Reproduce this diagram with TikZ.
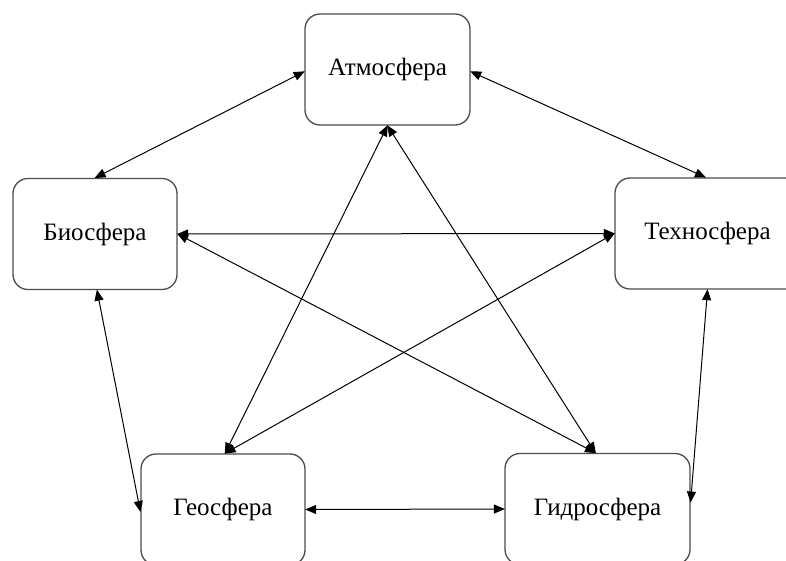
\documentclass[tikz,border=0pt]{standalone}
\usepackage{fontspec}
\setmainfont{Liberation Serif}
\usetikzlibrary{arrows.meta}
\begin{document}
\begin{tikzpicture}[x=1pt,y=-1pt,
  sphere/.style={draw=black!70, line width=1.3pt, rounded corners=15pt,
    fill=white, inner sep=0pt, minimum height=111pt,
    font=\fontsize{25}{28}\selectfont},
  link/.style={draw=black, line width=1pt,
    {Triangle[length=11pt,width=9pt]}-{Triangle[length=11pt,width=9pt]},
    shorten <=-0.5pt, shorten >=-0.5pt}]
\useasboundingbox (0,0) rectangle (786,560);
\fill[white] (0,0) rectangle (786,560);

\node[sphere, minimum width=165pt] (atm)   at (387.5, 69.5) {Атмосфера};
\node[sphere, minimum width=164pt] (bio)   at (95, 234)     {Биосфера};
\node[sphere, minimum width=185pt] (tech)  at (707.5, 233.5) {Техносфера};
\node[sphere, minimum width=164pt] (geo)   at (223, 509.5)  {Геосфера};
\node[sphere, minimum width=185pt] (hydro) at (597.5, 509)  {Гидросфера};

% outer ring
\draw[link] ([yshift=-2pt]atm.west) -- (bio.north);
\draw[link] ([yshift=-2pt]atm.east) -- ([xshift=-2pt]tech.north);
\draw[link] ([xshift=2pt]bio.south) -- ([yshift=-2pt]geo.west);
\draw[link] (tech.south) -- ([yshift=7pt]hydro.east);
\draw[link] (geo.east) -- (hydro.west);

% inner star
\draw[link] (bio.east) -- (tech.west);
\draw[link] (atm.south) -- ([xshift=2pt]geo.north);
\draw[link] (atm.south) -- ([xshift=-2pt]hydro.north);
\draw[link] (bio.east) -- ([xshift=-2pt]hydro.north);
\draw[link] (tech.west) -- ([xshift=2pt]geo.north);
\end{tikzpicture}
\end{document}
